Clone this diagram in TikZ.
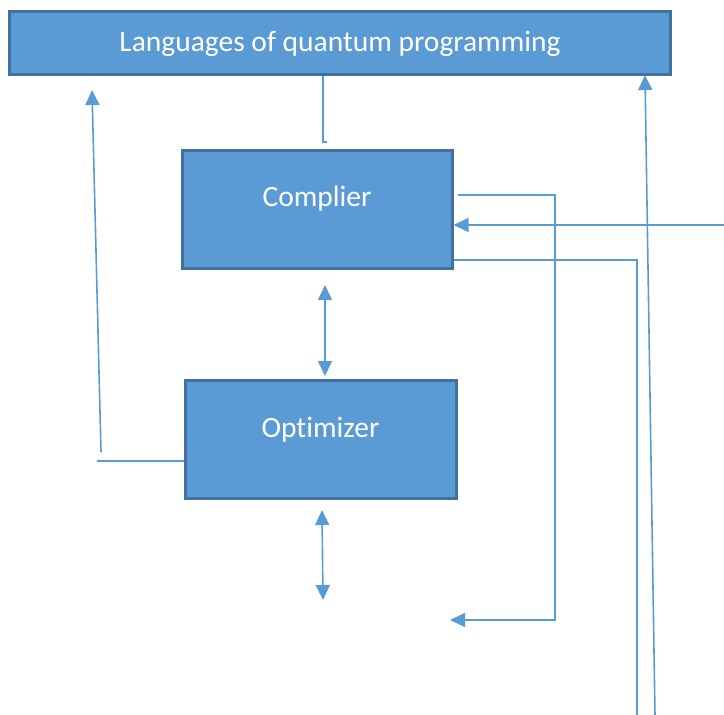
\documentclass[tikz,border=0pt]{standalone}
\usepackage{fontspec}
\setmainfont{Carlito}[Ligatures=NoCommon]
\usetikzlibrary{arrows.meta}
\definecolor{boxfill}{HTML}{5B9BD5}
\definecolor{boxedge}{HTML}{41719C}
\begin{document}
\begin{tikzpicture}[x=1pt,y=-1pt,
  blockbox/.style={draw=boxedge,line width=3pt,fill=boxfill,rectangle,inner sep=0pt},
  conn/.style={draw=boxfill,line width=1.6pt},
  tip/.style={-{Triangle[length=15pt,width=14pt]}},
  dtip/.style={{Triangle[length=15pt,width=14pt]}-{Triangle[length=15pt,width=14pt]}},
  lbl/.style={text=white,font=\fontsize{29.5}{34}\selectfont}]
\useasboundingbox (0,0) rectangle (724,715);
\node[blockbox,minimum width=661pt,minimum height=63pt] (top) at (339.5,42.5) {};
\node[lbl] (toptext) at (340,44) {Languages of quantum programming};
\node[blockbox,minimum width=270pt,minimum height=118pt] (comp) at (317,209) {};
\node[lbl] (comptext) at (317,199) {Complier};
\node[blockbox,minimum width=271pt,minimum height=118pt] (opt) at (320.5,439) {};
\node[lbl] (opttext) at (320.5,430) {Optimizer};
% coordinates
\coordinate (hook) at (323,142);
\coordinate (dA1) at (325,285);
\coordinate (dA2) at (325,376);
\coordinate (dB1) at (322,510);
\coordinate (dB2) at (323,600);
\coordinate (lfoot) at (97,461);
\coordinate (lstart) at (101,452);
\coordinate (ltip) at (92,90);
\coordinate (r1s) at (458,195);
\coordinate (r1c) at (555,195);
\coordinate (r1d) at (555,620);
\coordinate (r1e) at (450,620);
\coordinate (r2c) at (637,260);
\coordinate (r2e) at (637,715);
\coordinate (r3s) at (724,225);
\coordinate (r4s) at (655,715);
\coordinate (r4e) at (645,75);
% connectors
\draw[conn] (top.south -| hook) -- (hook) -- ++(4,0);
\draw[conn,dtip] (dA1) -- (dA2);
\draw[conn,dtip] (dB1) -- (dB2);
\draw[conn] (opt.west |- lfoot) -- (lfoot);
\draw[conn,tip] (lstart) -- (ltip);
\draw[conn,tip] (r1s) -- (r1c) -- (r1d) -- (r1e);
\draw[conn] (comp.east |- r2c) -- (r2c) -- (r2e);
\draw[conn,tip] (r3s) -- (comp.east |- r3s);
\draw[conn,tip] (r4s) -- (r4e);
\end{tikzpicture}
\end{document}
